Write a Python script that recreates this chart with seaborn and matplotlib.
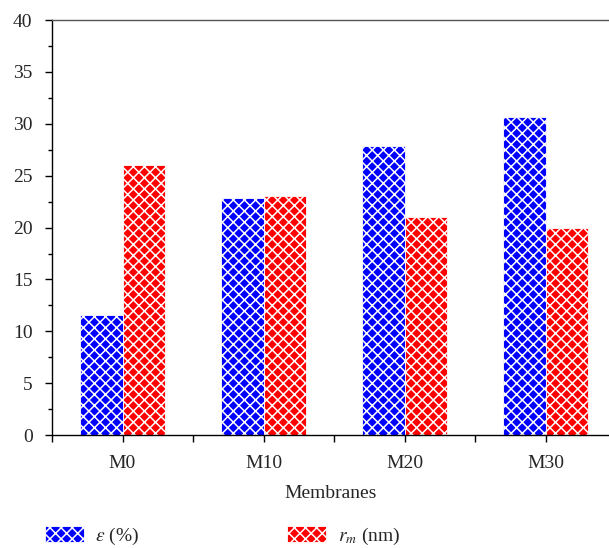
import numpy as np
import pandas as pd
import matplotlib
matplotlib.use('Agg')
import matplotlib.pyplot as plt
from matplotlib.ticker import MultipleLocator, FixedLocator
import seaborn as sns

# data
membranes = ['M0', 'M10', 'M20', 'M30']
porosity = [11.6, 22.8, 27.9, 30.7]      # epsilon (%)
pore_radius = [26.0, 23.0, 21.0, 20.0]   # r_m (nm)
series_names = [r'$\varepsilon$ (%)', r'$r_m$ (nm)']
colors = ['#0000ff', '#ff0000']

df = pd.DataFrame({
    'membrane': membranes * 2,
    'value': porosity + pore_radius,
    'series': [series_names[0]] * 4 + [series_names[1]] * 4,
})

sns.set_style('white')
plt.rcParams['font.family'] = ['Liberation Serif', 'DejaVu Serif']
plt.rcParams['mathtext.fontset'] = 'stix'
plt.rcParams['hatch.linewidth'] = 1.1

fig = plt.figure(figsize=(6.09, 5.48), dpi=100)
ax = fig.add_axes([0.0854, 0.206, 0.9146, 0.7575])

sns.barplot(data=df, x='membrane', y='value', hue='series', palette=colors,
            width=0.6, ax=ax, legend=False, saturation=1)

for cont in ax.containers:
    for p in cont:
        p.set_hatch('xxx')
        p.set_edgecolor('white')
        p.set_linewidth(0.6)

ax.set_xlim(-0.5, 3.45)
ax.set_ylim(0, 40)
ax.yaxis.set_major_locator(MultipleLocator(5))
ax.yaxis.set_minor_locator(MultipleLocator(2.5))
ax.xaxis.set_minor_locator(FixedLocator([-0.5, 0.5, 1.5, 2.5]))
ax.tick_params(axis='both', which='major', direction='out', length=5, width=1,
               labelsize=14, left=True, bottom=True, color='black')
ax.tick_params(axis='both', which='minor', direction='out', length=5, width=1,
               left=True, bottom=True, color='black')
ax.tick_params(axis='y', which='minor', length=3)
ax.tick_params(axis='x', which='major', pad=9)
ax.tick_params(axis='y', which='major', pad=9)

for side in ['left', 'bottom', 'top']:
    ax.spines[side].set_visible(True)
    ax.spines[side].set_linewidth(1)
ax.spines['left'].set_color('black')
ax.spines['bottom'].set_color('black')
ax.spines['top'].set_color('#555555')
ax.spines['right'].set_visible(False)

ax.set_xlabel('Membranes', fontsize=14, labelpad=10)
ax.set_ylabel('')

handles = [c.patches[0] for c in ax.containers]
fig.legend(handles, series_names, loc='lower left', bbox_to_anchor=(0.045, -0.03),
           ncol=2, frameon=False, fontsize=14, handlelength=2.0, handleheight=0.9,
           columnspacing=7.6, handletextpad=0.6)

fig.savefig('out.png', dpi=100)
